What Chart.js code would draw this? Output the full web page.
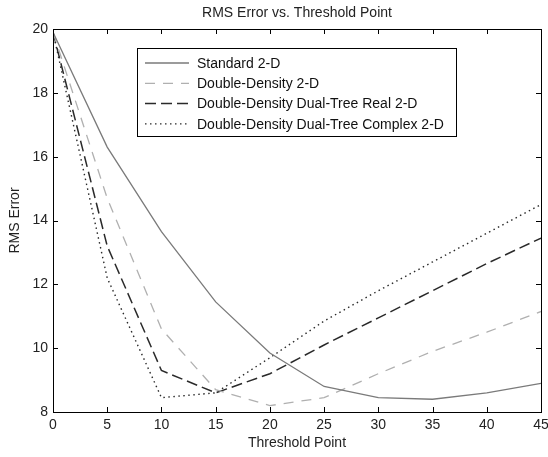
<!DOCTYPE html>
<html>
<head>
<meta charset="utf-8">
<script src="https://cdn.jsdelivr.net/npm/chart.js@4/dist/chart.umd.min.js"></script>
<style>
  html, body { margin: 0; padding: 0; background: #fff; }
  #wrap { width: 548px; height: 457px; }
</style>
</head>
<body>
<div id="wrap"><canvas id="rmsChart" width="548" height="457"></canvas></div>
<script>
// threshold points (x) and RMS error per method (y)
const thresholds    = [0, 5, 10, 15, 20, 25, 30, 35, 40, 45];
const standard2D    = [19.9, 16.3, 13.65, 11.45, 9.85, 8.8, 8.45, 8.4, 8.6, 8.9];
const doubleDensity = [19.9, 14.7, 10.6, 8.7, 8.2, 8.45, 9.2, 9.9, 10.5, 11.15];
const dualTreeReal  = [19.9, 13.2, 9.3, 8.6, 9.2, 10.1, 10.95, 11.8, 12.65, 13.45];
const dualTreeCplx  = [19.9, 12.2, 8.45, 8.6, 9.7, 10.85, 11.8, 12.7, 13.6, 14.5];
const seriesLabels  = [
  'Standard 2-D',
  'Double-Density 2-D',
  'Double-Density Dual-Tree Real 2-D',
  'Double-Density Dual-Tree Complex 2-D'
];
const chartTitle = 'RMS Error vs. Threshold Point';

const FONT = 'Liberation Sans, Arial, sans-serif';
const toPoints = ys => thresholds.map((x, i) => ({ x, y: ys[i] }));

// matlab-ish box: frame + inward ticks on all four sides + legend inside
// title is centred over the axes, not the canvas, like matlab does
const matlabBox = {
  id: 'matlabBox',
  afterDatasetsDraw(chart) {
    const { ctx, chartArea: a, scales } = chart;
    ctx.save();
    ctx.strokeStyle = '#000';
    ctx.lineWidth = 1;
    ctx.strokeRect(a.left + 0.5, a.top + 0.5, a.right - a.left, a.bottom - a.top);

    const len = 5;
    ctx.beginPath();
    scales.x.ticks.forEach(t => {
      const px = Math.round(scales.x.getPixelForValue(t.value)) + 0.5;
      ctx.moveTo(px, a.bottom); ctx.lineTo(px, a.bottom - len);
      ctx.moveTo(px, a.top);    ctx.lineTo(px, a.top + len);
    });
    scales.y.ticks.forEach(t => {
      const py = Math.round(scales.y.getPixelForValue(t.value)) + 0.5;
      ctx.moveTo(a.left, py);  ctx.lineTo(a.left + len, py);
      ctx.moveTo(a.right, py); ctx.lineTo(a.right - len, py);
    });
    ctx.stroke();

    // title
    ctx.font = '14px ' + FONT;
    ctx.fillStyle = '#222';
    ctx.textAlign = 'center';
    ctx.textBaseline = 'middle';
    ctx.fillText(chartTitle, (a.left + a.right) / 2, 13);

    // legend
    const lx = 137, ly = 48, lw = 319, lh = 88;
    ctx.fillStyle = '#fff';
    ctx.fillRect(lx, ly, lw, lh);
    ctx.strokeRect(lx + 0.5, ly + 0.5, lw, lh);
    ctx.textAlign = 'left';
    chart.data.datasets.forEach((ds, i) => {
      const y = ly + 15 + i * 20.3;
      ctx.beginPath();
      ctx.strokeStyle = ds.borderColor;
      ctx.lineWidth = ds.borderWidth;
      ctx.setLineDash(ds.borderDash || []);
      ctx.moveTo(lx + 8, y);
      ctx.lineTo(lx + 52, y);
      ctx.stroke();
      ctx.setLineDash([]);
      ctx.fillStyle = '#111';
      ctx.fillText(ds.label, lx + 60, y + 1);
    });
    ctx.restore();
  }
};

const lineDs = (label, ys, color, dash, width) => ({
  label,
  data: toPoints(ys),
  borderColor: color,
  borderDash: dash,
  borderWidth: width,
  pointRadius: 0,
  tension: 0,
  fill: false
});

new Chart(document.getElementById('rmsChart').getContext('2d'), {
  type: 'line',
  data: {
    datasets: [
      lineDs(seriesLabels[0], standard2D,    '#7a7a7a', [],      1.3),
      lineDs(seriesLabels[1], doubleDensity, '#b0b0b0', [10, 8], 1.3),
      lineDs(seriesLabels[2], dualTreeReal,  '#2a2a2a', [11, 5], 1.5),
      lineDs(seriesLabels[3], dualTreeCplx,  '#2a2a2a', [1.5, 3.5], 1.4)
    ]
  },
  options: {
    responsive: false,
    animation: false,
    layout: { padding: { top: 29, right: 0, left: 0, bottom: 0 } },
    plugins: {
      legend: { display: false },
      tooltip: { enabled: false },
      title: { display: false }
    },
    scales: {
      x: {
        type: 'linear',
        min: 0, max: 45,
        ticks: { stepSize: 5, color: '#222', font: { family: FONT, size: 14 }, padding: 5 },
        grid: { display: false, drawTicks: false },
        border: { display: false },
        title: { display: true, text: 'Threshold Point', color: '#222',
                 font: { family: FONT, size: 14 }, padding: { top: 0, bottom: 5 } },
        afterFit: s => { s.height = 45; s.paddingRight = 7; s.paddingLeft = 0; }
      },
      y: {
        min: 8, max: 20,
        ticks: { stepSize: 2, color: '#222', font: { family: FONT, size: 14 }, padding: 5 },
        grid: { display: false, drawTicks: false },
        border: { display: false },
        title: { display: true, text: 'RMS Error', color: '#222',
                 font: { family: FONT, size: 14 }, padding: { top: 7, bottom: 0 } },
        afterFit: s => { s.width = 53; }
      }
    }
  },
  plugins: [matlabBox]
});
</script>
</body>
</html>
